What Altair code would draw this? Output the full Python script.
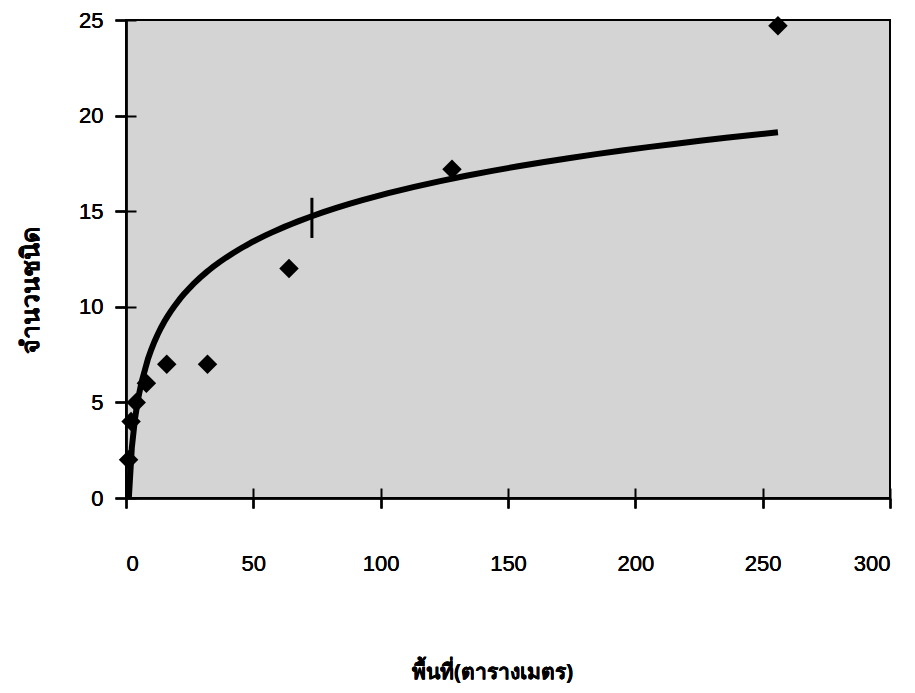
import altair as alt
import pandas as pd

# data
area = [1, 2, 4, 8, 16, 32, 64, 128, 256]          # พื้นที่ (ตารางเมตร)
species = [2, 4, 5, 6, 7, 7, 12, 17.2, 24.7]       # จำนวนชนิด
mark_x = [73, 73]                                   # small stroke crossing the curve
mark_y = [13.6, 15.7]

x_ticks = [0, 50, 100, 150, 200, 250, 300]
y_ticks = [0, 5, 10, 15, 20, 25]

df = pd.DataFrame({"x": area, "y": species})
dm = pd.DataFrame({"x": mark_x[:1], "y": mark_y[:1], "y2": mark_y[1:]})

FONT = "Liberation Sans"

xscale = alt.Scale(domain=[0, 300], nice=False)
yscale = alt.Scale(domain=[0, 25], nice=False)

xaxis = alt.Axis(
    orient="bottom", values=x_ticks, grid=False, domainColor="black", domainWidth=2,
    tickColor="black", tickWidth=2, tickSize=10, labelFont=FONT, labelFontSize=22,
    labelColor="black", labelPadding=55, labelBaseline="middle",
    title="พื้นที่(ตารางเมตร)", titleFont="Noto Sans", titleFontSize=21,
    titleFontWeight="bold", titleColor="black", titleX=366, titleY=174,
    titleBaseline="middle", titleAlign="center",
)
yaxis = alt.Axis(
    orient="left", values=y_ticks, grid=False, domainColor="black", domainWidth=2,
    tickColor="black", tickWidth=2, tickSize=11, labelFont=FONT, labelFontSize=22,
    labelColor="black", labelPadding=12,
    title="จำนวนชนิด", titleFont="Noto Sans", titleFontSize=25,
    titleFontWeight="bold", titleColor="black", titleX=-96, titleY=270,
    titleBaseline="middle", titleAlign="center", titleAngle=270,
)

points = alt.Chart(df).mark_point(
    shape="diamond", filled=True, color="black", size=380, opacity=1
).encode(
    x=alt.X("x:Q", scale=xscale, axis=xaxis),
    y=alt.Y("y:Q", scale=yscale, axis=yaxis),
)

curve = alt.Chart(df).transform_regression(
    "x", "y", method="log"
).mark_line(color="black", strokeWidth=6, clip=True).encode(
    x=alt.X("x:Q", scale=xscale, axis=xaxis),
    y=alt.Y("y:Q", scale=yscale, axis=yaxis),
)

stroke_mark = alt.Chart(dm).mark_rule(color="black", strokeWidth=3).encode(
    x=alt.X("x:Q", scale=xscale, axis=xaxis),
    y=alt.Y("y:Q", scale=yscale, axis=yaxis),
    y2="y2:Q",
)

# inner half of the crossing tick marks
inner_x = alt.Axis(orient="bottom", values=x_ticks, grid=False, domain=False, labels=False,
                   title=None, tickColor="black", tickWidth=2, tickSize=10, offset=-10)
inner_y = alt.Axis(orient="left", values=y_ticks, grid=False, domain=False, labels=False,
                   title=None, tickColor="black", tickWidth=2, tickSize=10, offset=-10)
inner = alt.Chart(df).mark_point(opacity=0).encode(
    x=alt.X("x:Q", scale=xscale, axis=inner_x),
    y=alt.Y("y:Q", scale=yscale, axis=inner_y),
)

chart = alt.layer(curve, stroke_mark, points, inner).resolve_axis(
    x="independent", y="independent"
).properties(
    width=764, height=478,
    padding={"left": 126, "top": 20, "right": 25, "bottom": 195},
    autosize=alt.AutoSizeParams(type="none"),
    background="white",
).configure_view(
    fill="#d4d4d4", stroke="black", strokeWidth=2
)

chart.save("out.html", embed_options={"renderer": "svg", "actions": False})
